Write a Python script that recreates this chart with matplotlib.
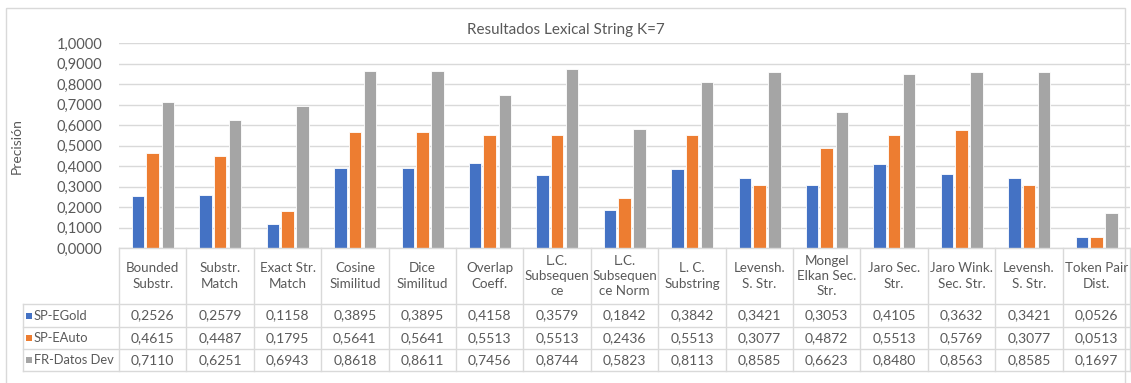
import matplotlib
matplotlib.use("Agg")
import matplotlib.pyplot as plt
from matplotlib.patches import Rectangle

plt.rcParams['font.family'] = ['Lato', 'DejaVu Sans']

categories = [
    "Bounded\nSubstr.", "Substr.\nMatch", "Exact Str.\nMatch", "Cosine\nSimilitud",
    "Dice\nSimilitud", "Overlap\nCoeff.", "L.C.\nSubsequen\nce", "L.C.\nSubsequen\nce Norm",
    "L. C.\nSubstring", "Levensh.\nS. Str.", "Mongel\nElkan Sec.\nStr.", "Jaro Sec.\nStr.",
    "Jaro Wink.\nSec. Str.", "Levensh.\nS. Str.", "Token Pair\nDist.",
]
series_names = ["SP-EGold", "SP-EAuto", "FR-Datos Dev"]
sp_egold = [0.2526, 0.2579, 0.1158, 0.3895, 0.3895, 0.4158, 0.3579, 0.1842,
            0.3842, 0.3421, 0.3053, 0.4105, 0.3632, 0.3421, 0.0526]
sp_eauto = [0.4615, 0.4487, 0.1795, 0.5641, 0.5641, 0.5513, 0.5513, 0.2436,
            0.5513, 0.3077, 0.4872, 0.5513, 0.5769, 0.3077, 0.0513]
fr_datos = [0.7110, 0.6251, 0.6943, 0.8618, 0.8611, 0.7456, 0.8744, 0.5823,
            0.8113, 0.8585, 0.6623, 0.8480, 0.8563, 0.8585, 0.1697]
y_ticks = [i / 10 for i in range(11)]

colors = ["#4472C4", "#ED7D31", "#A5A5A5"]
text_color = "#595959"
grid_color = "#D9D9D9"

W, H = 1131, 383
fig = plt.figure(figsize=(W / 100, H / 100), dpi=100)
fig.patch.set_facecolor("white")

# pixel-space geometry of the plot area and data table
left, right = 119, 1130
top, base = 43, 248
table_left = 23
row_edges = [248, 304, 327, 349, 371]

ax = fig.add_axes([left / W, 1 - base / H, (right - left) / W, (base - top) / H])
n = len(categories)
offsets = [-0.215, 0.0, 0.225]
bw = 0.185
for vals, off, c in zip([sp_egold, sp_eauto, fr_datos], offsets, colors):
    ax.bar([i + off for i in range(n)], vals, width=bw, color=c,
           edgecolor="white", linewidth=0.6, zorder=3)
ax.set_xlim(-0.5, n - 0.5)
ax.set_ylim(0, 1.0)
ax.set_yticks(y_ticks)
ax.set_yticklabels([f"{t:.4f}".replace(".", ",") for t in y_ticks],
                   fontsize=10.5, color=text_color)
ax.tick_params(axis="y", length=0, pad=12)
ax.set_xticks([])
ax.grid(axis="y", color=grid_color, linewidth=1.0, zorder=0)
for s in ax.spines.values():
    s.set_visible(False)
ax.set_facecolor("none")

# overlay in pixel coordinates for frame, title and axis label
ov = fig.add_axes([0, 0, 1, 1], zorder=-1)
ov.set_xlim(0, W)
ov.set_ylim(H, 0)
ov.axis("off")
ov.add_patch(Rectangle((6, 8), W - 12, H + 10, fill=False, edgecolor="#D9D9D9", linewidth=1.0))

ov.text(566, 30, "Resultados Lexical String K=7", ha="center", va="center",
        fontsize=11, color=text_color)
ov.text(17, 146, "Precisión", ha="center", va="center", rotation=90,
        fontsize=10, color=text_color)

# data table under the plot
tab = fig.add_axes([0, 0, 1, 1], zorder=2)
tab.set_xlim(0, W)
tab.set_ylim(H, 0)
tab.axis("off")
tab.patch.set_alpha(0)

cw = (right - left) / n
line_kw = dict(color=grid_color, linewidth=1.0)
tab.plot([left, right], [row_edges[0]] * 2, **line_kw)
for y in row_edges[1:]:
    tab.plot([table_left, right], [y, y], **line_kw)
for i in range(n + 1):
    x = left + i * cw
    tab.plot([x, x], [row_edges[0], row_edges[-1]], **line_kw)
tab.plot([table_left, table_left], [row_edges[1], row_edges[-1]], **line_kw)

hdr_mid = (row_edges[0] + row_edges[1]) / 2
for i, cat in enumerate(categories):
    tab.text(left + (i + 0.5) * cw, hdr_mid, cat, ha="center", va="center",
             fontsize=9.6, color=text_color, linespacing=1.3)

for r, (name, vals, c) in enumerate(zip(series_names, [sp_egold, sp_eauto, fr_datos], colors)):
    y0, y1 = row_edges[r + 1], row_edges[r + 2]
    ym = (y0 + y1) / 2
    tab.add_patch(Rectangle((26, ym - 3), 6, 6, color=c, linewidth=0))
    tab.text(34, ym, name, ha="left", va="center", fontsize=9.3, color=text_color)
    for i, v in enumerate(vals):
        tab.text(left + (i + 0.5) * cw, ym, f"{v:.4f}".replace(".", ","),
                 ha="center", va="center", fontsize=10, color=text_color)

fig.savefig("out.png", dpi=100, facecolor="white")
